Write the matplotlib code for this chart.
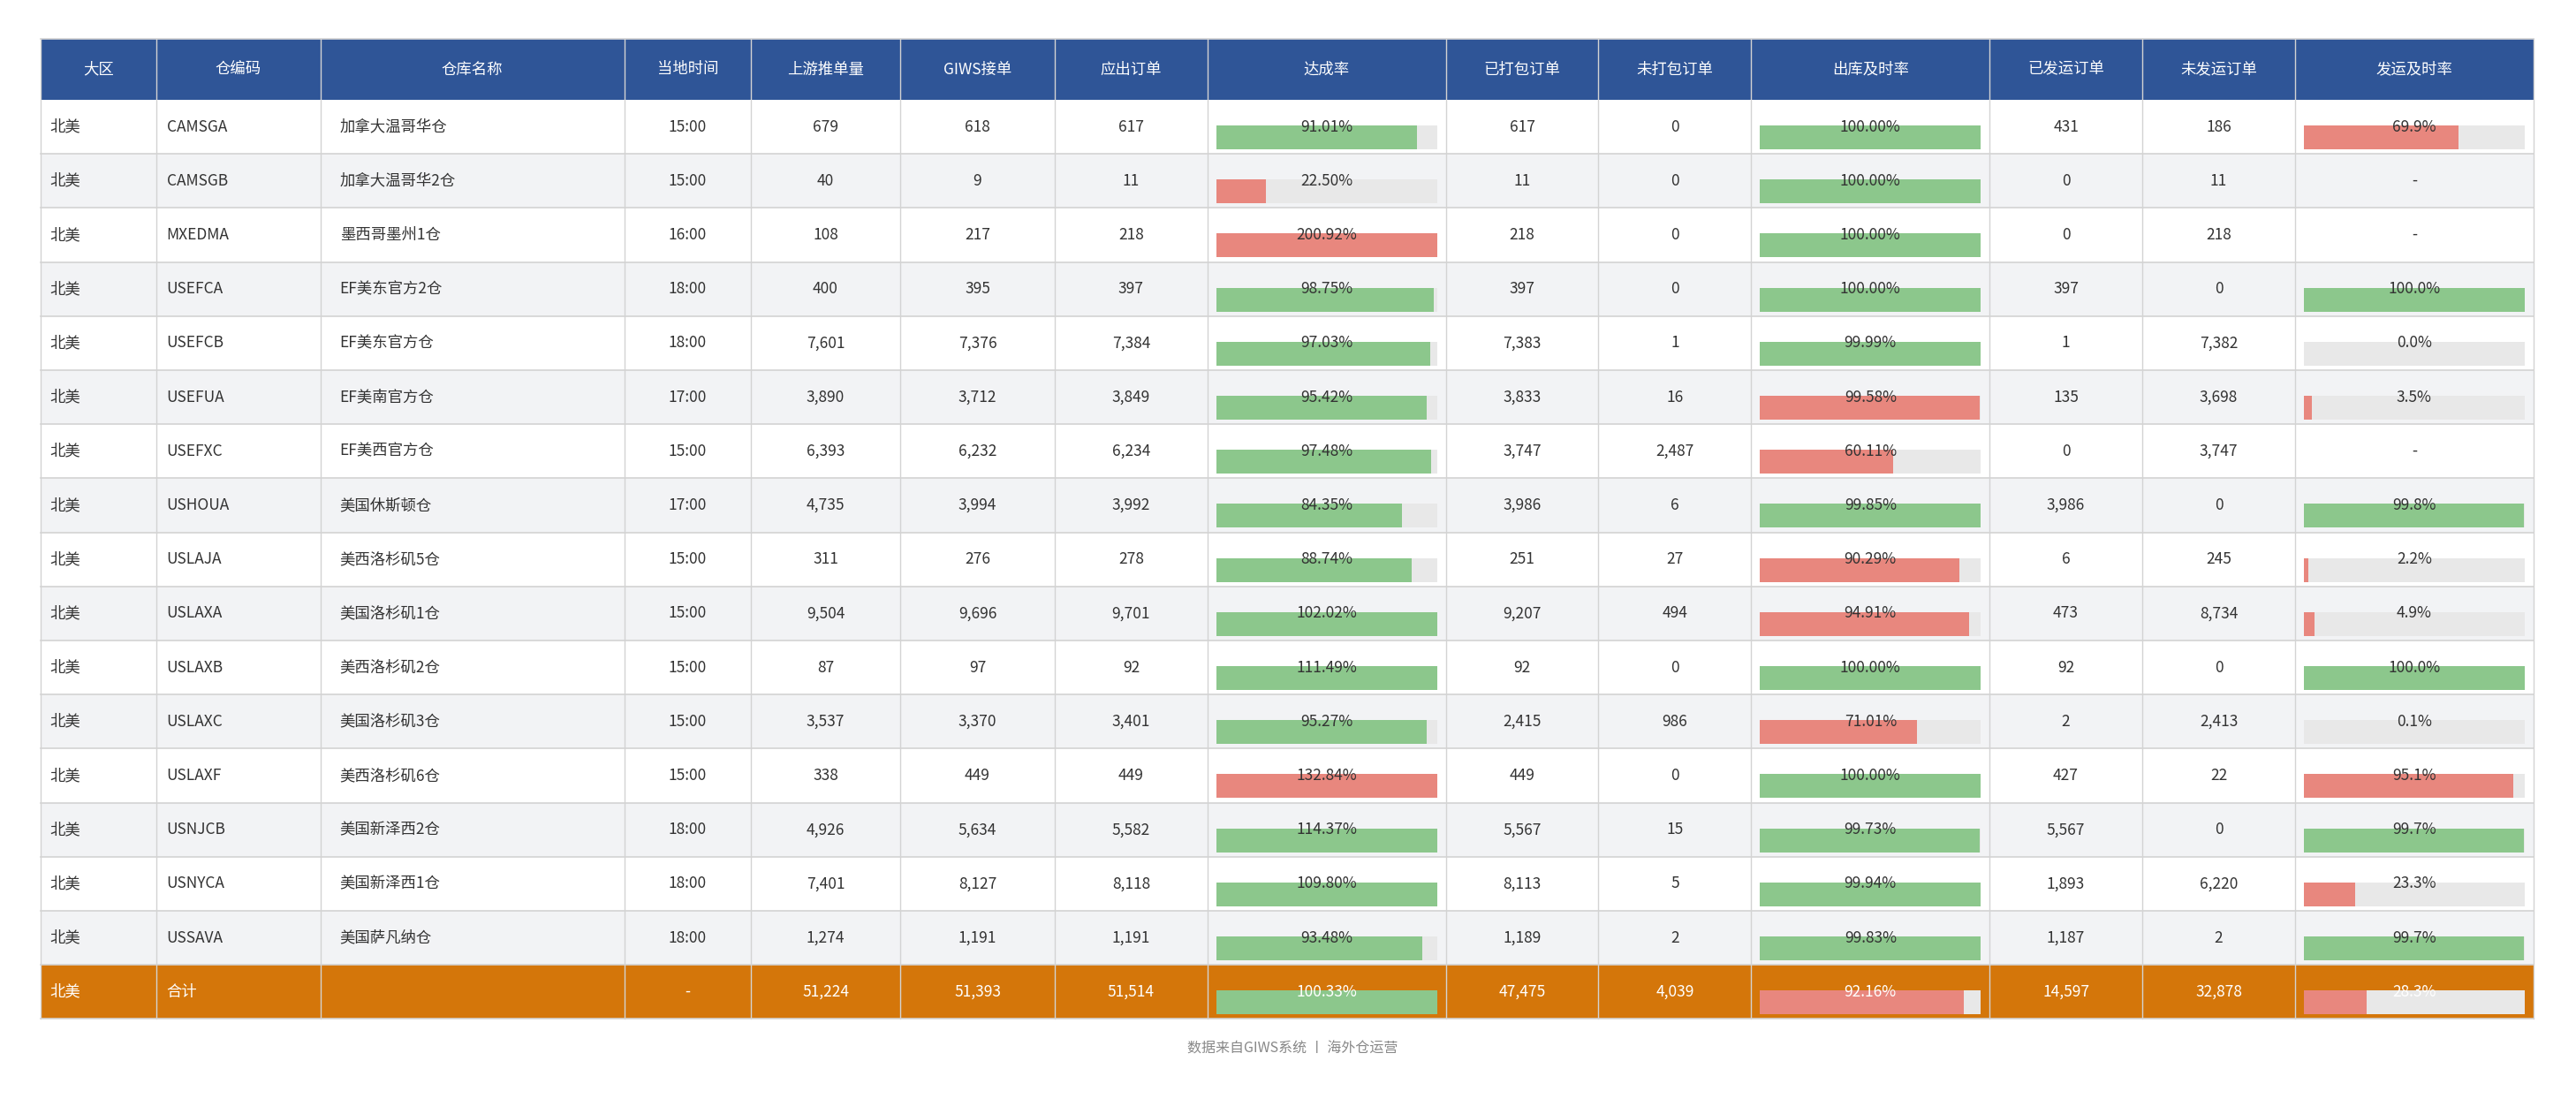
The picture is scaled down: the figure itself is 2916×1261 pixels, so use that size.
import matplotlib
matplotlib.use("Agg")
import matplotlib.pyplot as plt
from matplotlib.patches import Rectangle

plt.rcParams['font.family'] = ['Noto Sans CJK SC', 'DejaVu Sans']

headers = ["大区", "仓编码", "仓库名称", "当地时间", "上游推单量", "GIWS接单", "应出订单", "达成率",
           "已打包订单", "未打包订单", "出库及时率", "已发运订单", "未发运订单", "发运及时率"]
region = ["北美"] * 17
codes = ["CAMSGA", "CAMSGB", "MXEDMA", "USEFCA", "USEFCB", "USEFUA", "USEFXC", "USHOUA", "USLAJA",
         "USLAXA", "USLAXB", "USLAXC", "USLAXF", "USNJCB", "USNYCA", "USSAVA", "合计"]
names = ["加拿大温哥华仓", "加拿大温哥华2仓", "墨西哥墨州1仓", "EF美东官方2仓", "EF美东官方仓", "EF美南官方仓",
         "EF美西官方仓", "美国休斯顿仓", "美西洛杉矶5仓", "美国洛杉矶1仓", "美西洛杉矶2仓", "美国洛杉矶3仓",
         "美西洛杉矶6仓", "美国新泽西2仓", "美国新泽西1仓", "美国萨凡纳仓", ""]
local_time = ["15:00", "15:00", "16:00", "18:00", "18:00", "17:00", "15:00", "17:00", "15:00", "15:00",
              "15:00", "15:00", "15:00", "18:00", "18:00", "18:00", "-"]
upstream = ["679", "40", "108", "400", "7,601", "3,890", "6,393", "4,735", "311", "9,504", "87", "3,537",
            "338", "4,926", "7,401", "1,274", "51,224"]
giws = ["618", "9", "217", "395", "7,376", "3,712", "6,232", "3,994", "276", "9,696", "97", "3,370",
        "449", "5,634", "8,127", "1,191", "51,393"]
due = ["617", "11", "218", "397", "7,384", "3,849", "6,234", "3,992", "278", "9,701", "92", "3,401",
       "449", "5,582", "8,118", "1,191", "51,514"]
achieve = [91.01, 22.50, 200.92, 98.75, 97.03, 95.42, 97.48, 84.35, 88.74, 102.02, 111.49, 95.27,
           132.84, 114.37, 109.80, 93.48, 100.33]
packed = ["617", "11", "218", "397", "7,383", "3,833", "3,747", "3,986", "251", "9,207", "92", "2,415",
          "449", "5,567", "8,113", "1,189", "47,475"]
unpacked = ["0", "0", "0", "0", "1", "16", "2,487", "6", "27", "494", "0", "986", "0", "15", "5", "2", "4,039"]
outbound = [100.00, 100.00, 100.00, 100.00, 99.99, 99.58, 60.11, 99.85, 90.29, 94.91, 100.00, 71.01,
            100.00, 99.73, 99.94, 99.83, 92.16]
shipped = ["431", "0", "0", "397", "1", "135", "0", "3,986", "6", "473", "92", "2", "427", "5,567",
           "1,893", "1,187", "14,597"]
unshipped = ["186", "11", "218", "0", "7,382", "3,698", "3,747", "0", "245", "8,734", "0", "2,413", "22",
             "0", "6,220", "2", "32,878"]
ship_rate = [69.9, None, None, 100.0, 0.0, 3.5, None, 99.8, 2.2, 4.9, 100.0, 0.1, 95.1, 99.7, 23.3, 99.7, 28.3]

W, H = 2916, 1261
col_edges = [25, 95, 195, 380, 457, 548, 642, 735, 880, 973, 1066, 1211, 1304, 1397, 1542]
col_edges = [x * 1.8597 for x in col_edges]
top, head_h, row_h = 44, 69, 61.2

HEAD = "#2F5597"
TOTAL = "#D4760A"
GREEN = "#8CC78C"
RED = "#E8877E"
TRACK = "#E8E8E8"
ALT = "#F2F3F5"
LINE = "#D3D3D3"
TXT = "#333333"

fig = plt.figure(figsize=(W / 100, H / 100), dpi=100)
ax = fig.add_axes([0, 0, 1, 1])
ax.set_xlim(0, W)
ax.set_ylim(H, 0)
ax.axis("off")

n = len(codes)
fs = 12.5

# header
ax.add_patch(Rectangle((col_edges[0], top), col_edges[-1] - col_edges[0], head_h, color=HEAD, lw=0))
for i, h in enumerate(headers):
    cx = (col_edges[i] + col_edges[i + 1]) / 2
    ax.text(cx, top + head_h / 2, h, color="white", ha="center", va="center", fontsize=fs)

text_cols = [region, codes, names, local_time, upstream, giws, due, None, packed, unpacked, None,
             shipped, unshipped, None]
bar_cols = {7: (achieve, "{:.2f}%", lambda v: RED if v < 50 or v > 120 else GREEN),
            10: (outbound, "{:.2f}%", lambda v: RED if v < 99.7 else GREEN),
            13: (ship_rate, "{:.1f}%", lambda v: RED if v < 99 else GREEN)}

for r in range(n):
    y0 = top + head_h + r * row_h
    is_total = r == n - 1
    bg = TOTAL if is_total else (ALT if r % 2 else "white")
    fc = "white" if is_total else TXT
    ax.add_patch(Rectangle((col_edges[0], y0), col_edges[-1] - col_edges[0], row_h, color=bg, lw=0))
    ax.plot([col_edges[0], col_edges[-1]], [y0 + row_h, y0 + row_h], color=LINE, lw=1.2)
    for c in range(len(headers)):
        xl, xr = col_edges[c], col_edges[c + 1]
        cy = y0 + row_h / 2
        if c in bar_cols:
            vals, fmt, colfn = bar_cols[c]
            v = vals[r]
            if v is None:
                ax.text((xl + xr) / 2, cy, "-", color=fc, ha="center", va="center", fontsize=fs)
                continue
            bx, bw = xl + 10, (xr - xl) - 20
            by, bh = y0 + 29, 27
            ax.barh([by + bh / 2], [bw], left=bx, height=bh, color=TRACK, lw=0)
            ax.barh([by + bh / 2], [bw * min(v, 100) / 100], left=bx, height=bh, color=colfn(v), lw=0)
            ax.text((xl + xr) / 2, cy, fmt.format(v), color=fc, ha="center", va="center", fontsize=fs)
        else:
            s = text_cols[c][r]
            if c < 3:
                pad = 10 if c == 0 else 12
                if c == 2:
                    pad = 22
                ax.text(xl + pad, cy, s, color=fc, ha="left", va="center", fontsize=fs)
            else:
                ax.text((xl + xr) / 2, cy, s, color=fc, ha="center", va="center", fontsize=fs)

bottom = top + head_h + n * row_h
for x in col_edges:
    ax.plot([x, x], [top, bottom], color=LINE, lw=1)
ax.plot([col_edges[0], col_edges[-1]], [top, top], color=LINE, lw=1.2)

ax.text(W / 2 + 5, 1187, "数据来自GIWS系统 丨 海外仓运营", color="#888888", ha="center", va="center", fontsize=11.5)

fig.savefig("out.png", dpi=100, facecolor="white")
